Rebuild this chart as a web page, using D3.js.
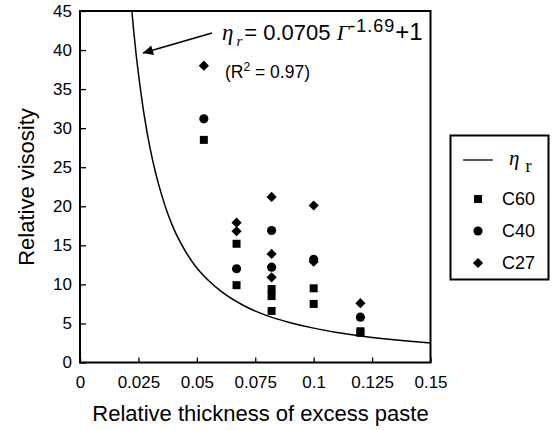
<!DOCTYPE html>
<html>
<head>
<meta charset="utf-8">
<script src="https://cdn.jsdelivr.net/npm/d3@7/dist/d3.min.js"></script>
<style>
  html, body { margin: 0; padding: 0; background: #fff; }
  svg { display: block; }
</style>
</head>
<body>
<svg id="chart" width="552" height="430"></svg>
<script>
// ---------------- data ----------------
const xTicks = [0, 0.025, 0.05, 0.075, 0.1, 0.125, 0.15];
const xTickLabels = ["0", "0.025", "0.05", "0.075", "0.1", "0.125", "0.15"];
const yTicks = [0, 5, 10, 15, 20, 25, 30, 35, 40, 45];
const yTickLabels = ["0", "5", "10", "15", "20", "25", "30", "35", "40", "45"];

// C60 (squares)
const c60X = [0.053, 0.067, 0.067, 0.082, 0.082, 0.082, 0.1, 0.1, 0.12, 0.12];
const c60Y = [28.5, 15.2, 9.9, 9.4, 8.5, 6.6, 9.5, 7.5, 3.8, 4.0];
// C40 (circles)
const c40X = [0.053, 0.067, 0.082, 0.082, 0.1, 0.12];
const c40Y = [31.2, 12.0, 16.9, 12.2, 13.2, 5.8];
// C27 (diamonds)
const c27X = [0.053, 0.067, 0.067, 0.082, 0.082, 0.082, 0.1, 0.1, 0.12];
const c27Y = [38.0, 17.9, 16.8, 21.2, 13.9, 10.9, 20.1, 12.9, 7.6];

// fitted curve eta_r (eta_r = 0.0705 Γ^-1.69 + 1)
const curveX = [0.0222, 0.023, 0.024, 0.025, 0.0275, 0.03, 0.0325, 0.035, 0.0375, 0.04, 0.045, 0.05, 0.055, 0.06, 0.07, 0.08, 0.09, 0.1, 0.11, 0.12, 0.13, 0.14, 0.15];
const curveY = [45.0, 42.4, 39.5, 37.0, 31.6, 27.4, 24.1, 21.4, 19.1, 17.2, 14.3, 12.1, 10.5, 9.2, 7.3, 6.0, 5.1, 4.4, 3.85, 3.4, 3.05, 2.75, 2.5];

const seriesNames = ["C60", "C40", "C27"];

// ---------------- chart ----------------
const svg = d3.select("#chart");
const FONT = "'Liberation Sans', Arial, Helvetica, sans-serif";
const SERIF = "'Liberation Serif', 'Times New Roman', serif";

const x = d3.scaleLinear().domain([0, 0.15]).range([80, 430.5]);
const y = d3.scaleLinear().domain([0, 45]).range([362.5, 11]);

// axes
const xAxis = d3.axisBottom(x).tickValues(xTicks)
  .tickFormat((d, i) => xTickLabels[i]).tickSizeInner(-5).tickSizeOuter(0).tickPadding(13);
const yAxis = d3.axisLeft(y).tickValues(yTicks)
  .tickFormat((d, i) => yTickLabels[i]).tickSizeInner(-6).tickSizeOuter(0).tickPadding(8);

const gx = svg.append("g").attr("transform", `translate(0,${y(0)})`).call(xAxis);
const gy = svg.append("g").attr("transform", `translate(${x(0)},0)`).call(yAxis);
[gx, gy].forEach(g => {
  g.select(".domain").remove();
  g.selectAll(".tick line").attr("stroke", "#000").attr("stroke-width", 1.3);
  g.selectAll(".tick text").attr("fill", "#000").style("font-family", FONT).style("font-size", "17px");
});

// frame
svg.append("rect")
  .attr("x", x(0)).attr("y", y(45))
  .attr("width", x(0.15) - x(0)).attr("height", y(0) - y(45))
  .attr("fill", "none").attr("stroke", "#000").attr("stroke-width", 2);

// curve
const curvePts = curveX.map((d, i) => [d, curveY[i]]);
svg.append("path")
  .datum(curvePts)
  .attr("fill", "none").attr("stroke", "#000").attr("stroke-width", 1.5)
  .attr("d", d3.line().x(d => x(d[0])).y(d => y(d[1])).curve(d3.curveMonotoneX));

// markers
const diamondShape = {
  draw(ctx, size) {
    const r = Math.sqrt(size / 2);
    ctx.moveTo(0, -r); ctx.lineTo(r, 0); ctx.lineTo(0, r); ctx.lineTo(-r, 0); ctx.closePath();
  }
};
const sym = {
  C60: d3.symbol().type(d3.symbolSquare).size(64),
  C40: d3.symbol().type(d3.symbolCircle).size(66),
  C27: d3.symbol().type(diamondShape).size(52)
};
function drawSeries(name, xs, ys) {
  svg.append("g").selectAll("path").data(xs.map((d, i) => [d, ys[i]])).enter()
    .append("path")
    .attr("transform", d => `translate(${x(d[0])},${y(d[1])})`)
    .attr("d", sym[name]())
    .attr("fill", "#000");
}
drawSeries("C60", c60X, c60Y);
drawSeries("C40", c40X, c40Y);
drawSeries("C27", c27X, c27Y);

// annotation: equation
const eq = svg.append("text").attr("x", 222).attr("y", 39.5).attr("fill", "#000");
eq.append("tspan").style("font-family", SERIF).style("font-style", "italic").style("font-size", "23px").text("η");
eq.append("tspan").attr("dx", 3).attr("dy", 6).style("font-family", SERIF).style("font-style", "italic").style("font-size", "15px").text("r");
eq.append("tspan").attr("dx", 2).attr("dy", -6).style("font-family", FONT).style("font-size", "22px").text("= 0.0705 ");
eq.append("tspan").style("font-family", SERIF).style("font-style", "italic").style("font-size", "22px").text("Γ");
eq.append("tspan").attr("dy", -8).style("font-family", FONT).style("font-size", "18px").style("letter-spacing", "1px").text("-1.69");
eq.append("tspan").attr("dy", 8).style("font-family", FONT).style("font-size", "24px").text("+1");

const r2 = svg.append("text").attr("x", 225).attr("y", 78).attr("fill", "#000")
  .style("font-family", FONT).style("font-size", "17.5px");
r2.append("tspan").text("(R");
r2.append("tspan").attr("dy", -7).style("font-size", "12px").text("2");
r2.append("tspan").attr("dy", 7).text(" = 0.97)");

// arrow
svg.append("defs").append("marker")
  .attr("id", "ah").attr("viewBox", "0 0 10 10").attr("refX", 10).attr("refY", 5)
  .attr("markerWidth", 20).attr("markerHeight", 10).attr("markerUnits", "userSpaceOnUse")
  .attr("orient", "auto")
  .append("path").attr("d", "M0,0 L10,5 L0,10 Z").attr("fill", "#000");
svg.append("line")
  .attr("x1", 212).attr("y1", 33).attr("x2", 143).attr("y2", 53)
  .attr("stroke", "#000").attr("stroke-width", 1.6).attr("marker-end", "url(#ah)");

// axis titles
svg.append("text")
  .attr("transform", `translate(34,187) rotate(-90)`)
  .attr("text-anchor", "middle").attr("fill", "#000")
  .style("font-family", FONT).style("font-size", "22px")
  .text("Relative visosity");
svg.append("text")
  .attr("x", 260.5).attr("y", 421)
  .attr("text-anchor", "middle").attr("fill", "#000")
  .style("font-family", FONT).style("font-size", "22px")
  .text("Relative thickness of excess paste");

// legend
const lg = svg.append("g");
lg.append("rect").attr("x", 450.5).attr("y", 135.5).attr("width", 98).attr("height", 144)
  .attr("fill", "#fff").attr("stroke", "#000").attr("stroke-width", 2);
lg.append("line").attr("x1", 463).attr("x2", 493).attr("y1", 160).attr("y2", 160)
  .attr("stroke", "#000").attr("stroke-width", 1.3);
const lt = lg.append("text").attr("x", 509).attr("y", 165).attr("fill", "#000");
lt.append("tspan").style("font-family", SERIF).style("font-style", "italic").style("font-size", "21px").text("η");
lt.append("tspan").attr("dx", 6).attr("dy", 7).style("font-family", SERIF).style("font-size", "18px").text("r");
const legendY = [199, 231, 263];
seriesNames.forEach((n, i) => {
  lg.append("path").attr("transform", `translate(478,${legendY[i]})`)
    .attr("d", sym[n]()).attr("fill", "#000");
  lg.append("text").attr("x", 502).attr("y", legendY[i]).attr("dy", "0.36em")
    .attr("fill", "#000").style("font-family", FONT).style("font-size", "18px").text(n);
});
</script>
</body>
</html>
